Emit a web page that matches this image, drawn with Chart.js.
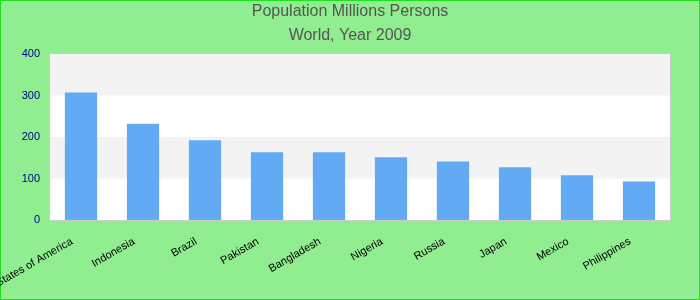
<!DOCTYPE html>
<html>
<head>
<meta charset="utf-8">
<script src="https://cdn.jsdelivr.net/npm/chart.js@4/dist/chart.umd.min.js"></script>
<style>
  html, body { margin: 0; padding: 0; background: #90ee90; }
  #wrap { width: 700px; height: 300px; position: relative; }
</style>
</head>
<body>
<div id="wrap"><canvas id="chart"></canvas></div>
<script>
const countries = ['United States of America', 'Indonesia', 'Brazil', 'Pakistan', 'Bangladesh',
                   'Nigeria', 'Russia', 'Japan', 'Mexico', 'Philippines'];
const population = [307, 232, 192, 163, 163, 151, 141, 127, 108, 93];
const titleLines = ['Population Millions Persons', 'World, Year 2009'];
const yMax = 400;
const yStep = 100;

// alternating bands + plot border + outer frame
const bandsPlugin = {
    id: 'bands',
    beforeDraw(chart) {
        const { ctx, chartArea: a, scales: { y } } = chart;
        ctx.save();
        ctx.fillStyle = '#90ee90';
        ctx.fillRect(0, 0, chart.width, chart.height);
        ctx.fillStyle = '#ffffff';
        ctx.fillRect(a.left, a.top, a.right - a.left, a.bottom - a.top);
        ctx.fillStyle = '#f3f3f3';
        for (let v = yStep; v < yMax; v += 2 * yStep) {
            const y1 = y.getPixelForValue(v + yStep);
            const y0 = y.getPixelForValue(v);
            ctx.fillRect(a.left, y1, a.right - a.left, y0 - y1);
        }
        ctx.strokeStyle = '#cccccc';
        ctx.lineWidth = 1;
        ctx.strokeRect(a.left - 0.5, a.top - 0.5, a.right - a.left + 1, a.bottom - a.top + 1);
        ctx.strokeStyle = '#22dd22';
        ctx.strokeRect(0.5, 0.5, chart.width - 1, chart.height - 1);
        ctx.restore();
    }
};

new Chart(document.getElementById('chart'), {
    type: 'bar',
    data: {
        labels: countries,
        datasets: [{
            data: population,
            backgroundColor: 'rgb(99,170,245)',
            borderWidth: 0,
            barPercentage: 0.52,
            categoryPercentage: 1
        }]
    },
    options: {
        responsive: true,
        maintainAspectRatio: false,
        animation: false,
        layout: { padding: 0 },
        plugins: {
            legend: { display: false },
            tooltip: { enabled: false },
            title: {
                display: true,
                text: titleLines,
                color: '#555555',
                font: { family: 'Liberation Sans, Arial, sans-serif', size: 16, weight: 'normal', lineHeight: 1.5 },
                padding: { top: 0, bottom: 6 }
            }
        },
        scales: {
            x: {
                grid: { display: false, drawTicks: false },
                border: { display: false },
                ticks: {
                    color: '#000000',
                    font: { family: 'Liberation Sans, Arial, sans-serif', size: 11 },
                    minRotation: 30,
                    maxRotation: 30,
                    padding: 15,
                    labelOffset: -9,
                    autoSkip: false
                },
                afterFit(scale) {
                    scale.paddingLeft = 0;
                    scale.paddingRight = 30;
                    scale.height = 80;
                }
            },
            y: {
                min: 0,
                max: yMax,
                grid: { display: false, drawTicks: false },
                border: { display: false },
                ticks: {
                    stepSize: yStep,
                    color: '#00008b',
                    font: { family: 'Liberation Sans, Arial, sans-serif', size: 11 },
                    padding: 10
                },
                afterFit(scale) {
                    scale.width = 50;
                    scale.paddingTop = 0;
                    scale.paddingBottom = 0;
                }
            }
        }
    },
    plugins: [bandsPlugin]
});
</script>
</body>
</html>
